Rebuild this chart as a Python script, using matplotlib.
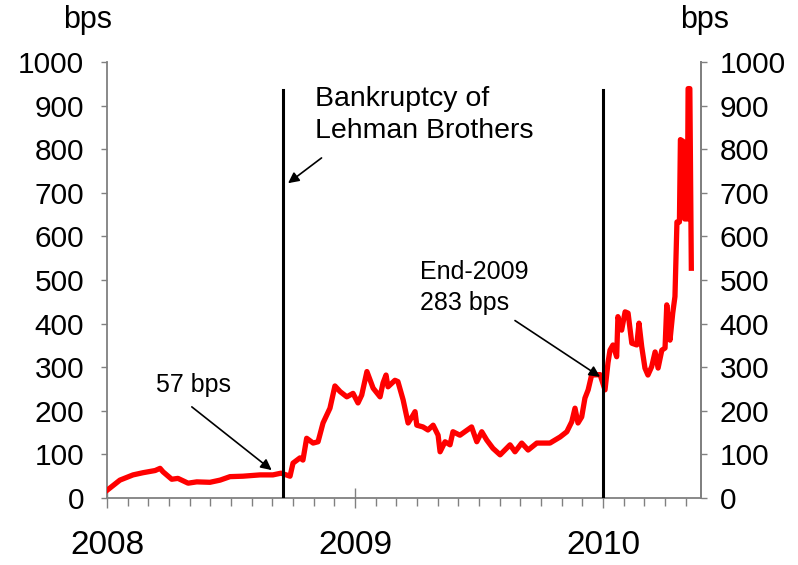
import numpy as np
import matplotlib
matplotlib.use("Agg")
import matplotlib.pyplot as plt
from matplotlib.ticker import MultipleLocator, FixedLocator

plt.rcParams['font.family'] = ['Liberation Sans', 'DejaVu Sans']

# --- datos (fecha en años decimales, spread en bps) ---
t = [2008.001, 2008.052, 2008.105, 2008.145, 2008.194, 2008.214, 2008.226, 2008.261,
     2008.286, 2008.327, 2008.362, 2008.415, 2008.456, 2008.496, 2008.548, 2008.617,
     2008.669, 2008.702, 2008.738, 2008.750, 2008.778, 2008.790, 2008.805, 2008.831,
     2008.851, 2008.871, 2008.899, 2008.919, 2008.940, 2008.967, 2008.992, 2009.012,
     2009.027, 2009.048, 2009.073, 2009.101, 2009.113, 2009.125, 2009.133, 2009.161,
     2009.173, 2009.194, 2009.214, 2009.234, 2009.242, 2009.249, 2009.274, 2009.294,
     2009.315, 2009.335, 2009.343, 2009.363, 2009.383, 2009.395, 2009.423, 2009.470,
     2009.491, 2009.511, 2009.531, 2009.556, 2009.585, 2009.625, 2009.645, 2009.672,
     2009.698, 2009.733, 2009.786, 2009.827, 2009.854, 2009.874, 2009.887, 2009.899,
     2009.914, 2009.927, 2009.940, 2009.954, 2009.988, 2010.008, 2010.020, 2010.028,
     2010.040, 2010.055, 2010.060, 2010.075, 2010.089, 2010.101, 2010.116, 2010.136,
     2010.145, 2010.156, 2010.169, 2010.181, 2010.196, 2010.210, 2010.222, 2010.237,
     2010.250, 2010.257, 2010.270, 2010.281, 2010.290, 2010.298, 2010.308, 2010.312,
     2010.323, 2010.329, 2010.340, 2010.343, 2010.350, 2010.356]
bps = [18, 41, 53, 58, 63, 68, 60, 43,
       45, 34, 37, 36, 41, 49, 50, 53,
       53, 57, 50, 80, 92, 87, 137, 126,
       129, 172, 206, 257, 244, 232, 240, 218,
       236, 290, 252, 232, 264, 282, 255, 270,
       267, 225, 172, 190, 198, 167, 163, 156,
       167, 144, 106, 129, 122, 152, 144, 163,
       129, 152, 133, 114, 99, 122, 106, 126,
       110, 126, 126, 140, 152, 175, 206, 172,
       186, 229, 248, 282, 283, 248, 310, 339,
       351, 324, 416, 385, 427, 424, 355, 351,
       401, 347, 298, 282, 301, 335, 298, 339,
       344, 443, 362, 424, 462, 633, 633, 822,
       818, 640, 640, 939, 939, 527]

years = [2008, 2009, 2010]
year_labels = ["2008", "2009", "2010"]
yticks = list(range(0, 1001, 100))
event_dates = [2008.71, 2010.0]   # quiebra de Lehman, fin de 2009

fig = plt.figure(figsize=(7.98, 5.65), dpi=100)
ax = fig.add_axes([107 / 798, 67 / 565, 594 / 798, 436 / 565])

ax.plot(t, bps, color="#ff0000", lw=3.8, solid_joinstyle="round", zorder=3)
for d in event_dates:
    ax.plot([d, d], [0, 935], color="black", lw=2.2, zorder=4)

ax.set_xlim(2008, 2010.395)
ax.set_ylim(0, 1000)

# --- ejes ---
gris = "#808080"
ax.spines["top"].set_visible(False)
for s in ["left", "right", "bottom"]:
    ax.spines[s].set_color(gris)
    ax.spines[s].set_linewidth(1.3)

ax.xaxis.set_major_locator(FixedLocator(years))
ax.set_xticklabels(year_labels)
ax.xaxis.set_minor_locator(MultipleLocator(1 / 12))
ax.tick_params(axis="x", which="major", direction="inout", length=14, width=1.0,
               color=gris, labelsize=24, pad=16)
ax.tick_params(axis="x", which="minor", direction="out", length=5.5, width=1.0, color=gris)

ax.set_yticks(yticks)
ax.tick_params(axis="y", direction="out", length=4.5, width=1.0, color=gris,
               labelsize=21.5, pad=12)

ax2 = ax.twinx()
ax2.set_ylim(0, 1000)
ax2.set_yticks(yticks)
ax2.tick_params(axis="y", direction="out", length=4.5, width=1.0, color=gris,
                labelsize=21.5, pad=9)
for s in ["top", "left", "bottom"]:
    ax2.spines[s].set_visible(False)
ax2.spines["right"].set_color(gris)
ax2.spines["right"].set_linewidth(1.3)

fig.text(88 / 798, 1 - 20 / 565, "bps", fontsize=22, ha="center", va="center")
fig.text(705 / 798, 1 - 20 / 565, "bps", fontsize=22, ha="center", va="center")

# --- anotaciones ---
flecha = dict(arrowstyle="-|>", color="black", lw=1.2, mutation_scale=16, shrinkA=0, shrinkB=0)

ax.text(2008.839, 945, "Bankruptcy of\nLehman Brothers", fontsize=20.5, ha="left", va="top",
        linespacing=1.3)
ax.annotate("", xy=(2008.730, 722), xytext=(2008.865, 780), arrowprops=flecha)

ax.text(2008.347, 259, "57 bps", fontsize=18, ha="center", va="center")
ax.annotate("", xy=(2008.664, 64), xytext=(2008.342, 209), arrowprops=flecha)

ax.text(2009.262, 546, "End-2009\n283 bps", fontsize=18, ha="left", va="top",
        linespacing=1.35)
ax.annotate("", xy=(2009.988, 278), xytext=(2009.645, 407), arrowprops=flecha)

fig.savefig("out.png", dpi=100)
